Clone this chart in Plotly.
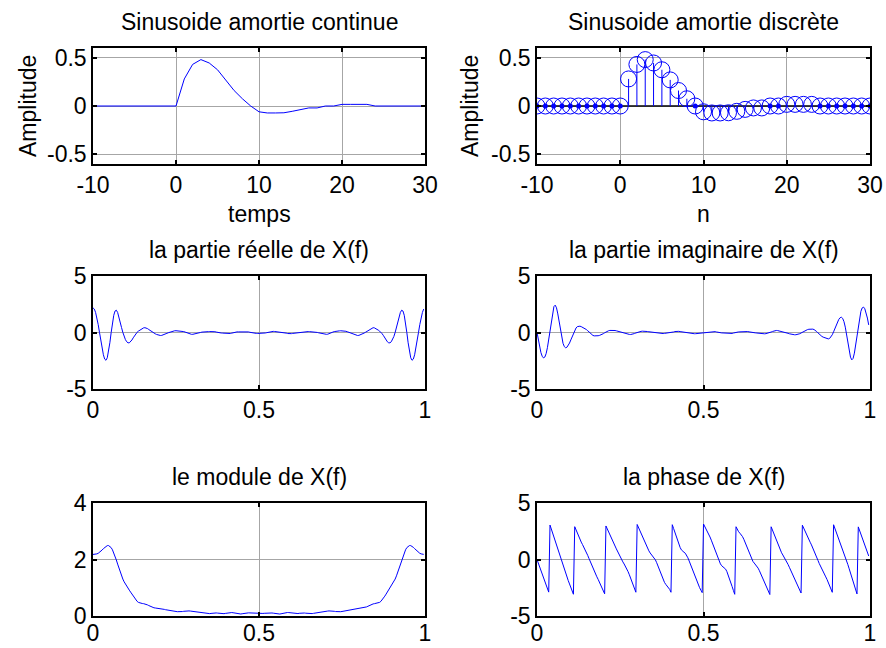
import numpy as np
import plotly.graph_objects as go

# Sample indices and damped sinusoid values
n = list(range(-10, 31))
x_n = [0, 0, 0, 0, 0, 0, 0, 0, 0, 0,
       0.0, 0.28, 0.43, 0.48, 0.445, 0.375, 0.27, 0.16, 0.075, 0.0,
       -0.06, -0.072, -0.072, -0.07, -0.055, -0.035, -0.02, -0.02, 0.0, 0.0,
       0.017, 0.017, 0.017, 0.017, 0, 0, 0, 0, 0, 0, 0]

N_FFT = 256

# Spectrum of the sequence on normalised frequency [0, 1)
X = np.fft.fft(np.array(x_n), N_FFT)
f = np.arange(N_FFT) / N_FFT

W, H = 886, 648
BLUE = "#0000ff"
GRID = "#a6a6a6"
FONT = "Liberation Sans, Arial, sans-serif"
FS = 23


def px_x(p):
    return p / W


def px_y(p):
    return 1 - p / H


cols = [(93, 425), (537, 870)]
rows = [(48, 164), (276, 389), (503, 616)]

fig = go.Figure()

panels = [
    # (row, col, xrange, xticks, yrange, yticks)
    (0, 0, [-10, 30], [-10, 0, 10, 20, 30], [-0.6, 0.6], [-0.5, 0, 0.5]),
    (0, 1, [-10, 30], [-10, 0, 10, 20, 30], [-0.6, 0.6], [-0.5, 0, 0.5]),
    (1, 0, [0, 1], [0, 0.5, 1], [-5, 5], [-5, 0, 5]),
    (1, 1, [0, 1], [0, 0.5, 1], [-5, 5], [-5, 0, 5]),
    (2, 0, [0, 1], [0, 0.5, 1], [0, 4], [0, 2, 4]),
    (2, 1, [0, 1], [0, 0.5, 1], [-5, 5], [-5, 0, 5]),
]

layout_axes = {}
for i, (r, c, xr, xt, yr, yt) in enumerate(panels):
    k = "" if i == 0 else str(i + 1)
    x0, x1 = cols[c]
    y0, y1 = rows[r]
    common = dict(
        showline=True, linecolor="black", linewidth=1.5, mirror="ticks",
        ticks="inside", ticklen=4, tickcolor="black", tickwidth=1.5,
        showgrid=True, gridcolor=GRID, gridwidth=1, zeroline=False,
        automargin=False,
        tickfont=dict(family=FONT, size=FS, color="black"),
    )
    layout_axes["xaxis" + k] = dict(
        domain=[px_x(x0), px_x(x1)], range=xr, tickvals=xt,
        ticktext=[("%g" % v) for v in xt], anchor="y" + k,
        ticklabelstandoff=(-4 if r == 2 else 0), **common)
    layout_axes["yaxis" + k] = dict(
        domain=[px_y(y1), px_y(y0)], range=yr, tickvals=yt,
        ticktext=[("%g" % v) for v in yt], anchor="x" + k, **common)

# Continuous damped sinusoid
fig.add_trace(go.Scatter(x=n, y=x_n, mode="lines", line=dict(color=BLUE, width=1),
                         xaxis="x", yaxis="y"))

# Discrete damped sinusoid as a stem plot
stem_x, stem_y = [], []
for ni, vi in zip(n, x_n):
    stem_x += [ni, ni, None]
    stem_y += [0, vi, None]
fig.add_trace(go.Scatter(x=[-10, 30], y=[0, 0], mode="lines",
                         line=dict(color="black", width=1.5), xaxis="x2", yaxis="y2"))
fig.add_trace(go.Scatter(x=stem_x, y=stem_y, mode="lines",
                         line=dict(color=BLUE, width=1), xaxis="x2", yaxis="y2"))
zx = [ni for ni, vi in zip(n, x_n) if vi == 0]
fig.add_trace(go.Scatter(x=zx, y=[0] * len(zx), mode="markers",
                         marker=dict(color=BLUE, size=5), xaxis="x2", yaxis="y2"))
fig.add_trace(go.Scatter(x=n, y=x_n, mode="markers",
                         marker=dict(symbol="circle-open", color=BLUE, size=16,
                                     line=dict(width=1, color=BLUE)),
                         xaxis="x2", yaxis="y2"))

# Spectral plots
spec = [(np.real(X), "3"), (np.imag(X), "4"), (np.abs(X), "5"), (np.angle(X), "6")]
for yv, k in spec:
    fig.add_trace(go.Scatter(x=f, y=yv, mode="lines", line=dict(color=BLUE, width=1),
                             xaxis="x" + k, yaxis="y" + k))

annotations = []
titles = [
    ("Sinusoide amortie continue", 0, 0),
    ("Sinusoide amortie discrète", 0, 1),
    ("la partie réelle de X(f)", 1, 0),
    ("la partie imaginaire de X(f)", 1, 1),
    ("le module de X(f)", 2, 0),
    ("la phase de X(f)", 2, 1),
]
for text, r, c in titles:
    x0, x1 = cols[c]
    annotations.append(dict(text=text, x=px_x((x0 + x1) / 2), y=px_y(rows[r][0] - 26),
                            xref="paper", yref="paper", xanchor="center", yanchor="middle",
                            showarrow=False, font=dict(family=FONT, size=FS, color="black")))

for text, c in [("temps", 0), ("n", 1)]:
    x0, x1 = cols[c]
    annotations.append(dict(text=text, x=px_x((x0 + x1) / 2), y=px_y(214),
                            xref="paper", yref="paper", xanchor="center", yanchor="middle",
                            showarrow=False, font=dict(family=FONT, size=FS, color="black")))

for xc in (28, 470):
    annotations.append(dict(text="Amplitude", x=px_x(xc), y=px_y(106), textangle=-90,
                            xref="paper", yref="paper", xanchor="center", yanchor="middle",
                            showarrow=False, font=dict(family=FONT, size=FS, color="black")))

fig.update_layout(
    width=W, height=H, margin=dict(l=0, r=0, t=0, b=0),
    paper_bgcolor="white", plot_bgcolor="white", showlegend=False,
    annotations=annotations, **layout_axes)

fig.write_html("out.html")
